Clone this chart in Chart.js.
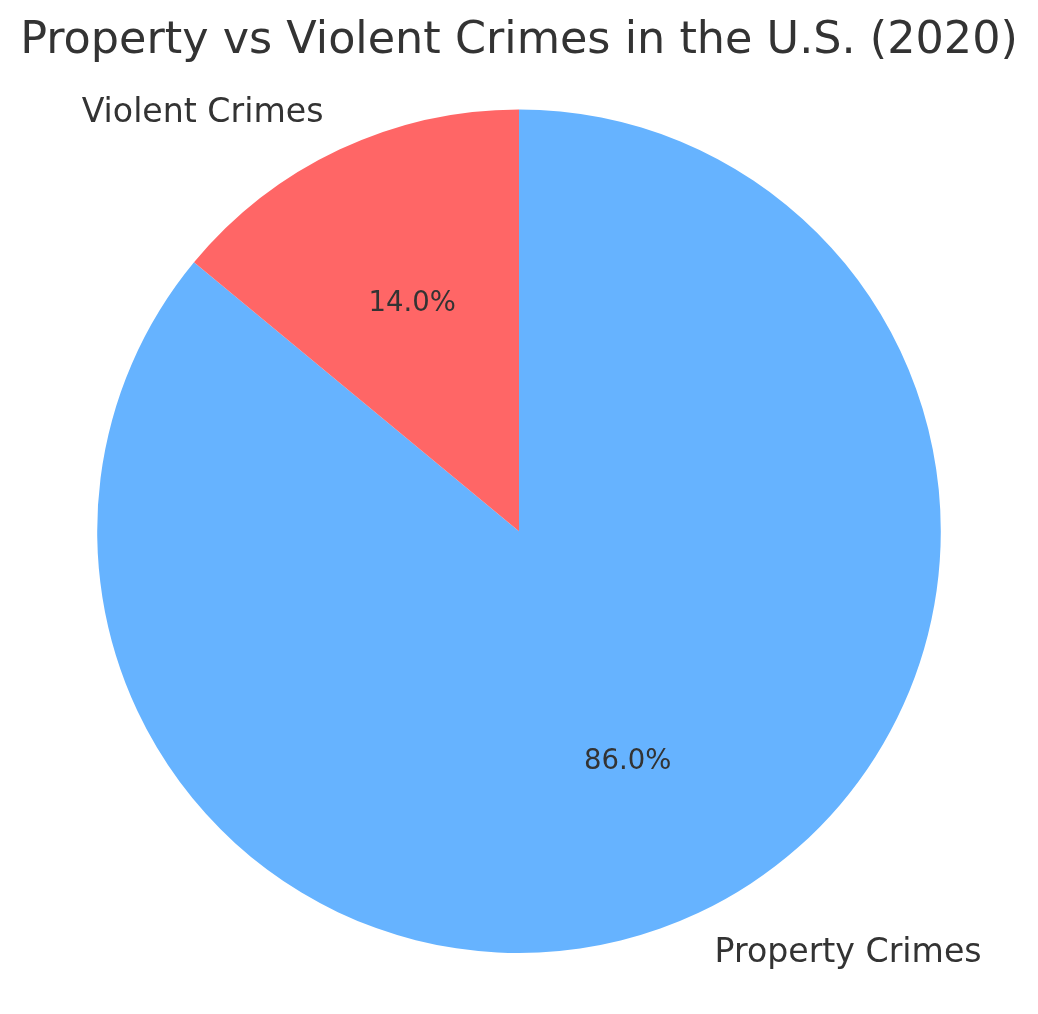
<!DOCTYPE html>
<html>
<head>
<meta charset="utf-8">
<script src="https://cdn.jsdelivr.net/npm/chart.js@4"></script>
<style>
html,body{margin:0;padding:0;background:#fff;}
#wrap{width:1038px;height:1014px;}
</style>
</head>
<body>
<div id="wrap"><canvas id="c" width="1038" height="1014"></canvas></div>
<script>
const chartTitle = "Property vs Violent Crimes in the U.S. (2020)";
const categories = ["Property Crimes", "Violent Crimes"];
const values = [86.0, 14.0];
const colors = ["#66b3ff", "#ff6666"];
const textColor = "#333333";
const fontFamily = "'DejaVu Sans', sans-serif";

const pieLabels = {
  id: 'pieLabels',
  afterDatasetsDraw(chart) {
    const ctx = chart.ctx;
    const meta = chart.getDatasetMeta(0);
    const total = values.reduce((a, b) => a + b, 0);
    ctx.save();
    ctx.fillStyle = textColor;
    meta.data.forEach((arc, i) => {
      const p = arc.getProps(['x', 'y', 'startAngle', 'endAngle', 'outerRadius'], true);
      const mid = (p.startAngle + p.endAngle) / 2;
      const r = p.outerRadius;
      ctx.font = "27.5px " + fontFamily;
      ctx.textAlign = 'center';
      ctx.textBaseline = 'middle';
      const pct = (values[i] / total * 100).toFixed(1) + '%';
      ctx.fillText(pct, p.x + Math.cos(mid) * r * 0.6 + 1, p.y + Math.sin(mid) * r * 0.6 + 2);
      ctx.font = "33.2px " + fontFamily;
      const lx = p.x + Math.cos(mid) * r * 1.1;
      const ly = p.y + Math.sin(mid) * r * 1.1 + 2;
      const right = Math.cos(mid) >= 0;
      ctx.textAlign = right ? 'left' : 'right';
      ctx.fillText(categories[i], lx + (right ? -2 : 2), ly);
    });
    ctx.restore();
  }
};

new Chart(document.getElementById('c'), {
  type: 'pie',
  data: {
    labels: categories,
    datasets: [{
      data: values,
      backgroundColor: colors,
      borderWidth: 0
    }]
  },
  options: {
    responsive: false,
    animation: false,
    devicePixelRatio: 1,
    rotation: 0,
    layout: { padding: { top: 0, left: 0, right: 0, bottom: 61 } },
    plugins: {
      legend: { display: false },
      tooltip: { enabled: false },
      title: {
        display: true,
        text: chartTitle,
        color: textColor,
        font: { family: fontFamily, size: 44.5, weight: 'normal', lineHeight: 1.2 },
        padding: { top: 15, bottom: 41 }
      }
    }
  },
  plugins: [pieLabels]
});
</script>
</body>
</html>
